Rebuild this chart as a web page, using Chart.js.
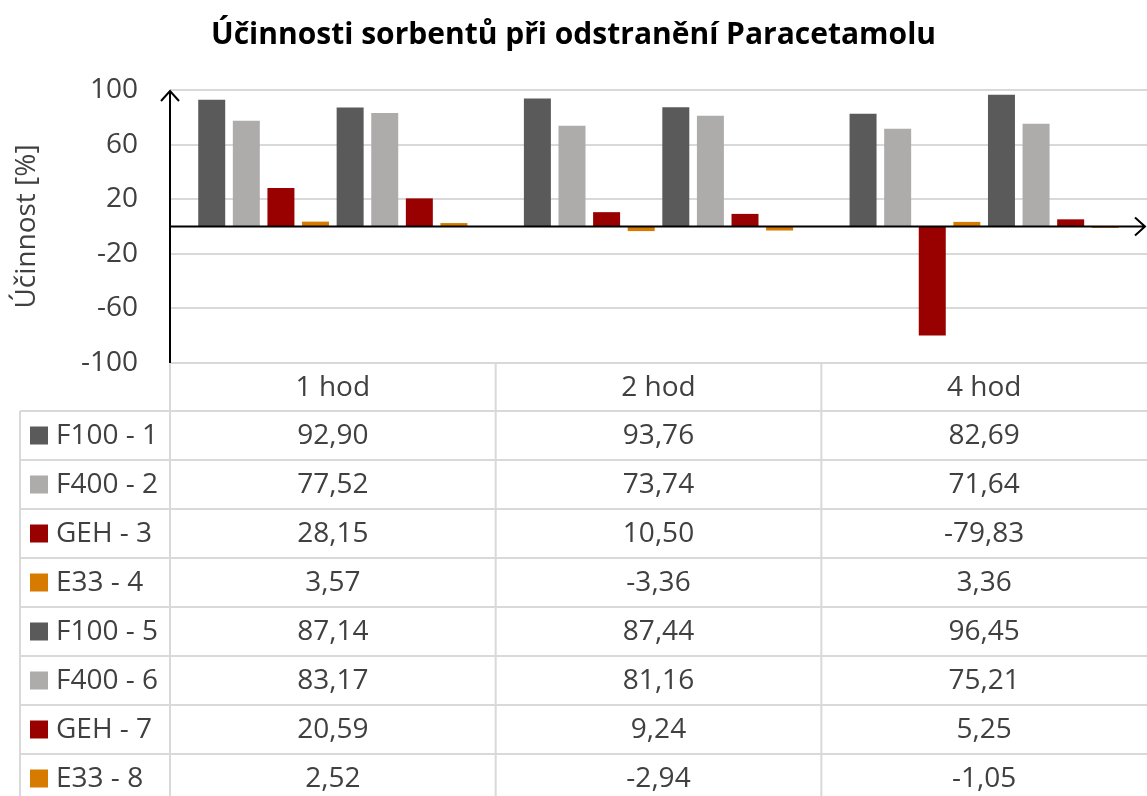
<!DOCTYPE html>
<html>
<head>
<meta charset="utf-8">
<script src="https://cdn.jsdelivr.net/npm/chart.js@4"></script>
<style>
  html, body { margin: 0; padding: 0; background: #fff; }
  #wrap { width: 1147px; height: 796px; }
</style>
</head>
<body>
<div id="wrap"><canvas id="myChart"></canvas></div>
<script>
'use strict';
/*------ data ------*/
const categories = ['1 hod', '2 hod', '4 hod'];
const yTicks = [-100, -60, -20, 20, 60, 100];

const f100_1 = [92.90, 93.76, 82.69];
const f400_2 = [77.52, 73.74, 71.64];
const geh_3 = [28.15, 10.50, -79.83];
const e33_4 = [3.57, -3.36, 3.36];
const f100_5 = [87.14, 87.44, 96.45];
const f400_6 = [83.17, 81.16, 75.21];
const geh_7 = [20.59, 9.24, 5.25];
const e33_8 = [2.52, -2.94, -1.05];

const seriesNames = ['F100 - 1', 'F400 - 2', 'GEH - 3', 'E33 - 4', 'F100 - 5', 'F400 - 6', 'GEH - 7', 'E33 - 8'];
const seriesValues = [f100_1, f400_2, geh_3, e33_4, f100_5, f400_6, geh_7, e33_8];
const seriesColors = ['#5a5a5a', '#aeabab', '#990000', '#d67b00', '#5a5a5a', '#aeabab', '#990000', '#d67b00'];

/*------ styles ------*/
const FONT = "'Open Sans', 'DejaVu Sans', sans-serif";
const TEXT = '#404040';
const GRID = '#d9d9d9';
const HEADER_H = 48;
const ROW_H = 49;
const TABLE_LEFT = 20;

function fmt(v) {
  return v.toFixed(2).replace('.', ',');
}

// black axes with arrow heads
const axesArrows = {
  id: 'axesArrows',
  afterDatasetsDraw(chart) {
    const ctx = chart.ctx;
    const y = chart.scales.y;
    const area = chart.chartArea;
    const y0 = y.getPixelForValue(0);
    ctx.save();
    ctx.strokeStyle = '#000';
    ctx.lineWidth = 2;
    ctx.beginPath();
    ctx.moveTo(area.left, y0);
    ctx.lineTo(area.right - 2, y0);
    ctx.moveTo(area.right - 12, y0 - 9);
    ctx.lineTo(area.right - 2, y0);
    ctx.lineTo(area.right - 12, y0 + 9);
    ctx.stroke();
    ctx.beginPath();
    ctx.moveTo(area.left, area.bottom);
    ctx.lineTo(area.left, area.top + 1);
    ctx.moveTo(area.left - 9, area.top + 11);
    ctx.lineTo(area.left, area.top + 1);
    ctx.lineTo(area.left + 9, area.top + 11);
    ctx.stroke();
    ctx.restore();
  }
};

// data table under the plot
const dataTable = {
  id: 'dataTable',
  afterDraw(chart) {
    const ctx = chart.ctx;
    const x = chart.scales.x;
    const area = chart.chartArea;
    const top = area.bottom;
    const colW = (area.right - area.left) / categories.length;
    const nRows = seriesNames.length;
    const bottom = top + HEADER_H + ROW_H * nRows;
    ctx.save();
    ctx.strokeStyle = GRID;
    ctx.lineWidth = 2;
    ctx.beginPath();
    // horizontal lines
    for (let r = 0; r <= nRows; r++) {
      const yy = top + HEADER_H + r * ROW_H;
      ctx.moveTo(TABLE_LEFT, yy);
      ctx.lineTo(chart.width, yy);
    }
    // vertical lines
    ctx.moveTo(TABLE_LEFT, top + HEADER_H);
    ctx.lineTo(TABLE_LEFT, bottom);
    for (let c = 0; c < categories.length; c++) {
      const xx = area.left + c * colW;
      ctx.moveTo(xx, top);
      ctx.lineTo(xx, bottom);
    }
    ctx.stroke();

    ctx.font = '28px ' + FONT;
    ctx.fillStyle = TEXT;
    ctx.textAlign = 'center';
    ctx.textBaseline = 'middle';
    for (let c = 0; c < categories.length; c++) {
      const cx = x.getPixelForValue(c);
      ctx.fillText(categories[c], cx, top + HEADER_H / 2 + 1);
      for (let r = 0; r < nRows; r++) {
        ctx.fillText(fmt(seriesValues[r][c]), cx, top + HEADER_H + r * ROW_H + ROW_H / 2 + 1);
      }
    }
    ctx.textAlign = 'left';
    for (let r = 0; r < nRows; r++) {
      const cy = top + HEADER_H + r * ROW_H + ROW_H / 2;
      ctx.fillStyle = seriesColors[r];
      ctx.fillRect(30, cy - 9, 18, 18);
      ctx.fillStyle = TEXT;
      ctx.fillText(seriesNames[r], 56, cy + 1);
    }
    ctx.restore();
  }
};

const datasets = [];
for (let i = 0; i < seriesNames.length; i++) {
  datasets.push({
    label: seriesNames[i],
    data: seriesValues[i],
    backgroundColor: seriesColors[i],
    borderWidth: 0,
    categoryPercentage: 0.85,
    barPercentage: 0.78,
  });
}

const config = {
  type: 'bar',
  data: { labels: categories, datasets: datasets },
  options: {
    responsive: true,
    maintainAspectRatio: false,
    animation: false,
    layout: { padding: { top: 0, right: 0, bottom: 433, left: 0 } },
    plugins: {
      legend: { display: false },
      tooltip: { enabled: false },
      title: {
        display: true,
        text: 'Účinnosti sorbentů při odstranění Paracetamolu',
        color: '#000',
        font: { family: FONT, size: 30, weight: 'bold' },
        padding: { top: 17, bottom: 37 },
      },
    },
    scales: {
      x: { display: false },
      y: {
        min: -100,
        max: 100,
        afterBuildTicks(scale) {
          scale.ticks = yTicks.map(v => ({ value: v }));
        },
        afterFit(scale) {
          scale.width = 170;
        },
        ticks: {
          color: TEXT,
          font: { family: FONT, size: 28 },
          padding: 32,
        },
        grid: { color: GRID, lineWidth: 2, drawTicks: false },
        border: { display: false },
        title: {
          display: true,
          text: 'Účinnost [%]',
          color: TEXT,
          font: { family: FONT, size: 28 },
          padding: { top: 10, bottom: 0 },
        },
      },
    },
  },
  plugins: [axesArrows, dataTable],
};

const myChart = new Chart(document.getElementById('myChart'), config);
</script>
</body>
</html>
